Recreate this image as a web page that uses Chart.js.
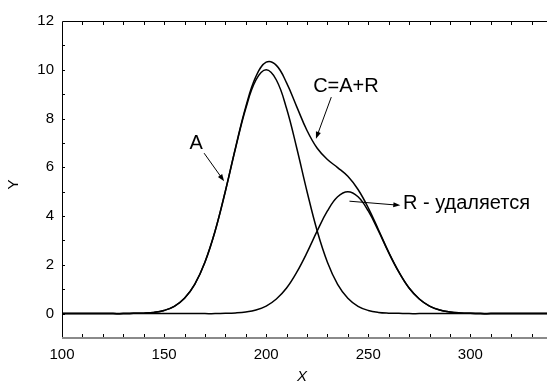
<!DOCTYPE html>
<html>
<head>
<meta charset="utf-8">
<script src="https://cdn.jsdelivr.net/npm/chart.js@4.4.1/dist/chart.umd.min.js"></script>
<style>
  html, body { margin: 0; padding: 0; background: #fff; overflow: hidden; }
  #wrap { position: relative; width: 552px; height: 383px; }
</style>
</head>
<body>
<div id="wrap"><canvas id="peaks"></canvas></div>
<script>
// X positions of the samples
const xs = [100, 105, 110, 115, 120, 125, 130, 135, 140, 145, 150, 155, 160, 165, 170, 175,
            180, 185, 190, 195, 200, 205, 210, 215, 220, 225, 230, 235, 240, 245, 250, 255,
            260, 265, 270, 275, 280, 285, 290, 295, 300, 305, 310, 315, 320, 325, 330, 335, 340];

// peak A (centre 200)
const seriesA = [0, 0, 0, 0, 0, 0, 0, 0.01, 0.02, 0.05, 0.13, 0.30, 0.63, 1.20, 2.11, 3.39,
                 5.01, 6.78, 8.41, 9.58, 10.00, 9.58, 8.41, 6.78, 5.01, 3.39, 2.11, 1.20, 0.63, 0.30, 0.13, 0.05,
                 0.02, 0.01, 0, 0, 0, 0, 0, 0, 0, 0, 0, 0, 0, 0, 0, 0, 0];

// peak R (centre 240)
const seriesR = [0, 0, 0, 0, 0, 0, 0, 0, 0, 0, 0, 0, 0, 0, 0, 0,
                 0.01, 0.03, 0.07, 0.15, 0.31, 0.60, 1.05, 1.70, 2.50, 3.39, 4.21, 4.79, 5.00, 4.79, 4.21, 3.39,
                 2.50, 1.70, 1.05, 0.60, 0.31, 0.15, 0.07, 0.03, 0.01, 0, 0, 0, 0, 0, 0, 0, 0];

// sum C = A + R
const seriesC = [0, 0, 0, 0, 0, 0, 0, 0.01, 0.02, 0.05, 0.13, 0.30, 0.63, 1.20, 2.11, 3.39,
                 5.02, 6.81, 8.48, 9.73, 10.31, 10.18, 9.46, 8.48, 7.51, 6.78, 6.32, 5.99, 5.63, 5.09, 4.34, 3.44,
                 2.52, 1.71, 1.05, 0.60, 0.31, 0.15, 0.07, 0.03, 0.01, 0, 0, 0, 0, 0, 0, 0, 0];

const xTicks = [100, 150, 200, 250, 300];
const yTicks = [0, 2, 4, 6, 8, 10, 12];

// callouts: text anchor and arrow (tail -> head), in data units
const callouts = [
  { text: 'A',             tx: 165.7, ty: 6.99, align: 'center', from: [169.6, 6.58], to: [179.4, 5.43] },
  { text: 'C=A+R',         tx: 223.0, ty: 9.30, align: 'left',   from: [231.9, 8.88], to: [224.4, 7.17] },
  { text: 'R - удаляется', tx: 267.0, ty: 4.53, align: 'left',   from: [240.8, 4.61], to: [265.7, 4.44] }
];

const FONT = '"Liberation Sans", Arial, sans-serif';

function toPoints(vals) {
  return xs.map((x, i) => ({ x: x, y: vals[i] }));
}

function curve(label, vals) {
  return {
    label: label,
    data: toPoints(vals),
    borderColor: '#000',
    borderWidth: 1.5,
    pointRadius: 0,
    fill: false,
    tension: 0.4
  };
}

function arrow(ctx, x1, y1, x2, y2) {
  const ang = Math.atan2(y2 - y1, x2 - x1);
  const len = 7, half = 2.6;
  ctx.beginPath();
  ctx.moveTo(x1, y1);
  ctx.lineTo(x2 - Math.cos(ang) * len * 0.8, y2 - Math.sin(ang) * len * 0.8);
  ctx.stroke();
  ctx.beginPath();
  ctx.moveTo(x2, y2);
  ctx.lineTo(x2 - Math.cos(ang) * len - Math.sin(ang) * half, y2 - Math.sin(ang) * len + Math.cos(ang) * half);
  ctx.lineTo(x2 - Math.cos(ang) * len + Math.sin(ang) * half, y2 - Math.sin(ang) * len - Math.cos(ang) * half);
  ctx.closePath();
  ctx.fill();
}

// frame with inward ticks, axis titles and the callouts
const framePlugin = {
  id: 'frame',
  afterDatasetsDraw(chart) {
    const { ctx, chartArea: a, scales: { x, y } } = chart;
    ctx.save();

    ctx.strokeStyle = '#000';
    ctx.lineWidth = 1;
    ctx.beginPath();
    ctx.moveTo(a.left + 0.5, a.bottom);
    ctx.lineTo(a.left + 0.5, a.top + 0.5);
    ctx.lineTo(a.right, a.top + 0.5);
    ctx.stroke();

    ctx.strokeStyle = '#8a8a8a';
    ctx.lineWidth = 2;
    ctx.beginPath();
    ctx.moveTo(a.left, a.bottom);
    ctx.lineTo(a.right, a.bottom);
    ctx.stroke();

    ctx.strokeStyle = '#000';
    ctx.lineWidth = 1;
    ctx.beginPath();
    for (let v = 110; v < 340; v += 10) {
      const px = Math.round(x.getPixelForValue(v)) + 0.5;
      ctx.moveTo(px, a.top);
      ctx.lineTo(px, a.top + 4);
      ctx.moveTo(px, a.bottom - 1);
      ctx.lineTo(px, a.bottom - 4);
    }
    for (let v = 0; v < 12; v++) {
      const py = Math.round(y.getPixelForValue(v)) + 0.5;
      ctx.moveTo(a.left, py);
      ctx.lineTo(a.left + 3, py);
    }
    ctx.stroke();

    // axis titles
    ctx.fillStyle = '#000';
    ctx.font = 'italic 15px ' + FONT;
    ctx.textAlign = 'center';
    ctx.textBaseline = 'middle';
    ctx.fillText('X', x.getPixelForValue(217.5), 377);
    ctx.save();
    ctx.translate(14, y.getPixelForValue(5.3));
    ctx.rotate(-Math.PI / 2);
    ctx.font = '15px ' + FONT;
    ctx.fillText('Y', 0, 0);
    ctx.restore();

    // callouts
    ctx.font = '20px ' + FONT;
    ctx.textBaseline = 'middle';
    ctx.lineWidth = 1;
    callouts.forEach(c => {
      ctx.textAlign = c.align;
      ctx.fillText(c.text, x.getPixelForValue(c.tx), y.getPixelForValue(c.ty));
      arrow(ctx,
        x.getPixelForValue(c.from[0]), y.getPixelForValue(c.from[1]),
        x.getPixelForValue(c.to[0]), y.getPixelForValue(c.to[1]));
    });

    ctx.restore();
  }
};

new Chart(document.getElementById('peaks').getContext('2d'), {
  type: 'line',
  data: {
    datasets: [
      curve('A', seriesA),
      curve('R', seriesR),
      curve('C', seriesC)
    ]
  },
  options: {
    responsive: true,
    maintainAspectRatio: false,
    animation: false,
    layout: { padding: { top: 21, right: 0, bottom: 0, left: 0 } },
    plugins: {
      legend: { display: false },
      tooltip: { enabled: false }
    },
    scales: {
      x: {
        type: 'linear',
        min: 100,
        max: 340,
        afterBuildTicks: s => { s.ticks = xTicks.map(v => ({ value: v })); },
        afterFit: s => { s.height = 45; },
        grid: { display: false, drawTicks: false },
        border: { display: false },
        ticks: { color: '#000', padding: 8, font: { family: FONT, size: 15 } }
      },
      y: {
        type: 'linear',
        min: -1,
        max: 12,
        afterBuildTicks: s => { s.ticks = yTicks.map(v => ({ value: v })); },
        afterFit: s => { s.width = 62; },
        grid: { display: false, drawTicks: false },
        border: { display: false },
        ticks: { color: '#000', padding: 8, font: { family: FONT, size: 15 } }
      }
    }
  },
  plugins: [framePlugin]
});
</script>
</body>
</html>
